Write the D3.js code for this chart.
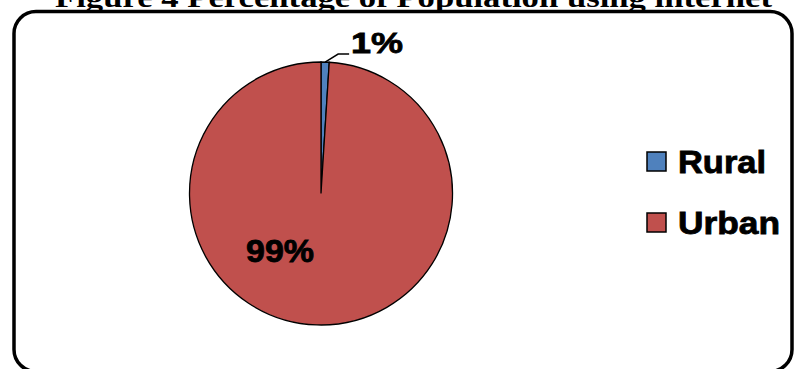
<!DOCTYPE html>
<html>
<head>
<meta charset="utf-8">
<script src="https://cdn.jsdelivr.net/npm/d3@7"></script>
<style>
  body { margin: 0; background: #fff; }
</style>
</head>
<body>
<div id="chart"></div>
<script>
  const width = 796;
  const height = 369;

  const categories = ["Rural", "Urban"];
  const values = [1, 99];
  const labels = ["1%", "99%"];
  const colors = ["#4F81BD", "#C0504D"];

  const svg = d3.select("#chart")
    .append("svg")
    .attr("width", width)
    .attr("height", height);

  // Title (cut off at the top, like the source)
  svg.append("text")
    .attr("x", 55)
    .attr("y", 7)
    .attr("textLength", 717)
    .attr("lengthAdjust", "spacingAndGlyphs")
    .style("font-family", "'Liberation Serif', serif")
    .style("font-weight", "bold")
    .style("font-size", "28px")
    .text("Figure 4 Percentage of Population using internet");

  // Chart border
  svg.append("rect")
    .attr("x", 14)
    .attr("y", 11.5)
    .attr("width", 778)
    .attr("height", 360)
    .attr("rx", 22)
    .attr("fill", "none")
    .attr("stroke", "black")
    .attr("stroke-width", 3.5);

  const cx = 321, cy = 193.5, r = 131.5;

  const pie = d3.pie().sort(null).value(d => d)(values);
  const arc = d3.arc().innerRadius(0).outerRadius(r);

  const g = svg.append("g").attr("transform", `translate(${cx},${cy})`);

  g.selectAll("path")
    .data(pie)
    .join("path")
    .attr("d", arc)
    .attr("fill", (d, i) => colors[i])
    .attr("stroke", "black")
    .attr("stroke-width", 1.3);

  // Leader line for the small slice
  const rural = pie[0];
  const mid = (rural.startAngle + rural.endAngle) / 2;
  const p0 = [Math.sin(mid) * r, -Math.cos(mid) * r];
  g.append("polyline")
    .attr("points", [p0, [p0[0] + 13, p0[1] - 8], [p0[0] + 24, p0[1] - 8]].map(p => p.join(",")).join(" "))
    .attr("fill", "none")
    .attr("stroke", "black")
    .attr("stroke-width", 1.5);

  const labelFont = "'Liberation Sans', Arial, sans-serif";

  svg.append("text")
    .attr("x", 351)
    .attr("y", 53)
    .attr("textLength", 52)
    .attr("lengthAdjust", "spacingAndGlyphs")
    .style("font-family", labelFont)
    .style("font-weight", "bold")
    .style("font-size", "30px")
    .style("stroke", "black")
    .style("stroke-width", 0.8)
    .text(labels[0]);

  svg.append("text")
    .attr("x", 246)
    .attr("y", 262)
    .attr("textLength", 68)
    .attr("lengthAdjust", "spacingAndGlyphs")
    .style("font-family", labelFont)
    .style("font-weight", "bold")
    .style("font-size", "31px")
    .style("stroke", "black")
    .style("stroke-width", 0.8)
    .text(labels[1]);

  // Legend
  const legend = svg.append("g");
  const legendWidths = [88, 102];
  categories.forEach((c, i) => {
    const y = 152 + i * 61;
    legend.append("rect")
      .attr("x", 647)
      .attr("y", y)
      .attr("width", 19)
      .attr("height", 19)
      .attr("fill", colors[i])
      .attr("stroke", "black")
      .attr("stroke-width", 1.5);
    legend.append("text")
      .attr("x", 678)
      .attr("y", y + 21)
      .attr("textLength", legendWidths[i])
      .attr("lengthAdjust", "spacingAndGlyphs")
      .style("font-family", labelFont)
      .style("font-weight", "bold")
      .style("font-size", "31px")
      .style("stroke", "black")
      .style("stroke-width", 0.8)
      .text(c);
  });
</script>
</body>
</html>
